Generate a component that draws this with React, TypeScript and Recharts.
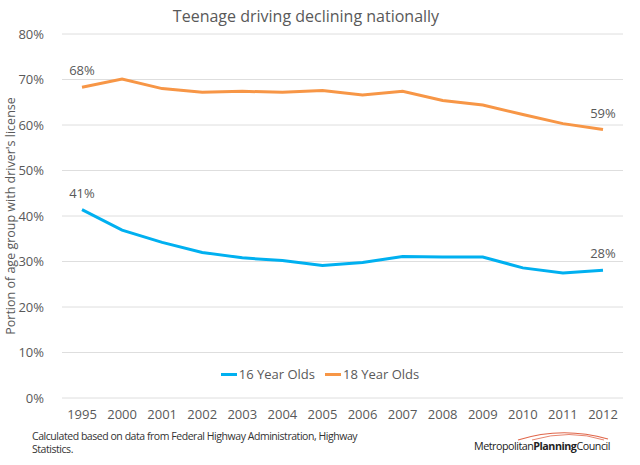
import { CartesianGrid, Label, LabelList, Line, LineChart, XAxis, YAxis } from 'recharts';

const years = ['1995', '2000', '2001', '2002', '2003', '2004', '2005', '2006', '2007', '2008', '2009', '2010', '2011', '2012'];
const age16 = [41.4, 36.9, 34.2, 32.0, 30.8, 30.2, 29.1, 29.8, 31.1, 31.0, 31.0, 28.6, 27.5, 28.1];
const age18 = [68.3, 70.1, 68.0, 67.2, 67.4, 67.2, 67.6, 66.6, 67.4, 65.4, 64.4, 62.3, 60.3, 59.0];
const yTicks = [0, 10, 20, 30, 40, 50, 60, 70, 80];

const series = [
  { key: 'age16', name: '16 Year Olds', color: '#00b0f0' },
  { key: 'age18', name: '18 Year Olds', color: '#f79646' },
];

const data = years.map((year, i) => ({ year, age16: age16[i], age18: age18[i] }));

const FONT = '"Open Sans", "Noto Sans", sans-serif';
const TEXT = '#595959';

// only the first and last points carry a label
function EndLabel(props: any) {
  const { x, y, value, index } = props;
  if (index !== 0 && index !== years.length - 1) return null;
  return (
    <text x={x} y={y - 12} textAnchor="middle" fontSize={13} fill={TEXT} fontFamily={FONT}>
      {Math.round(value)}%
    </text>
  );
}

function LegendBox() {
  return (
    <div
      style={{
        position: 'absolute',
        top: 365,
        left: 0,
        width: 640,
        display: 'flex',
        justifyContent: 'center',
        gap: 10,
        fontSize: 13,
        color: TEXT,
      }}
    >
      {series.map((s) => (
        <div key={s.key} style={{ display: 'flex', alignItems: 'center' }}>
          <span style={{ display: 'inline-block', width: 16, height: 3, background: s.color, marginRight: 2 }} />
          {s.name}
        </div>
      ))}
    </div>
  );
}

export default function App() {
  return (
    <div style={{ position: 'absolute', left: 0, top: 0, width: 640, height: 465, background: '#fff', fontFamily: FONT }}>
      <div style={{ position: 'absolute', top: 5, left: 0, width: 612, textAlign: 'center', fontSize: 16, color: TEXT }}>
        Teenage driving declining nationally
      </div>
      <LineChart width={640} height={465} data={data} margin={{ top: 34, right: 17, bottom: 37, left: 0 }}>
        <CartesianGrid vertical={false} stroke="#dedede" />
        <XAxis
          dataKey="year"
          height={30}
          padding={{ left: 20, right: 20 }}
          axisLine={false}
          tickLine={false}
          tickMargin={6}
          interval={0}
          tick={{ fontSize: 13, fill: TEXT, fontFamily: FONT }}
        />
        <YAxis
          width={62}
          domain={[0, 80]}
          ticks={yTicks}
          tickFormatter={(v) => `${v}%`}
          axisLine={false}
          tickLine={false}
          tickMargin={12}
          tick={{ fontSize: 13, fill: TEXT, fontFamily: FONT }}
        >
          <Label
            value="Portion of age group with driver's license"
            angle={-90}
            position="insideLeft"
            offset={11}
            style={{ textAnchor: 'middle', fontSize: 12.5, fill: TEXT, fontFamily: FONT }}
          />
        </YAxis>
        {series.map((s) => (
          <Line
            key={s.key}
            dataKey={s.key}
            name={s.name}
            stroke={s.color}
            strokeWidth={3}
            dot={false}
            isAnimationActive={false}
          >
            <LabelList dataKey={s.key} content={<EndLabel />} />
          </Line>
        ))}
      </LineChart>
      <LegendBox />
      <div style={{ position: 'absolute', left: 32, top: 430, width: 330, fontSize: 10.5, lineHeight: '13px', color: '#333', letterSpacing: -0.45 }}>
        Calculated based on data from Federal Highway Administration, Highway Statistics.
      </div>
      <svg style={{ position: 'absolute', left: 470, top: 428 }} width={150} height={30}>
        <path d="M 48 12 Q 92 -2 138 11" fill="none" stroke="#e0664a" strokeWidth={1.2} />
        <path d="M 62 12 Q 100 1 134 12" fill="none" stroke="#e0664a" strokeWidth={0.8} />
        <text x={4} y={22} fontSize={11} fill="#222" fontFamily={FONT} letterSpacing={-0.5} textLength={136} lengthAdjust="spacingAndGlyphs">
          Metropolitan<tspan fontWeight="bold">Planning</tspan>Council
        </text>
      </svg>
    </div>
  );
}
